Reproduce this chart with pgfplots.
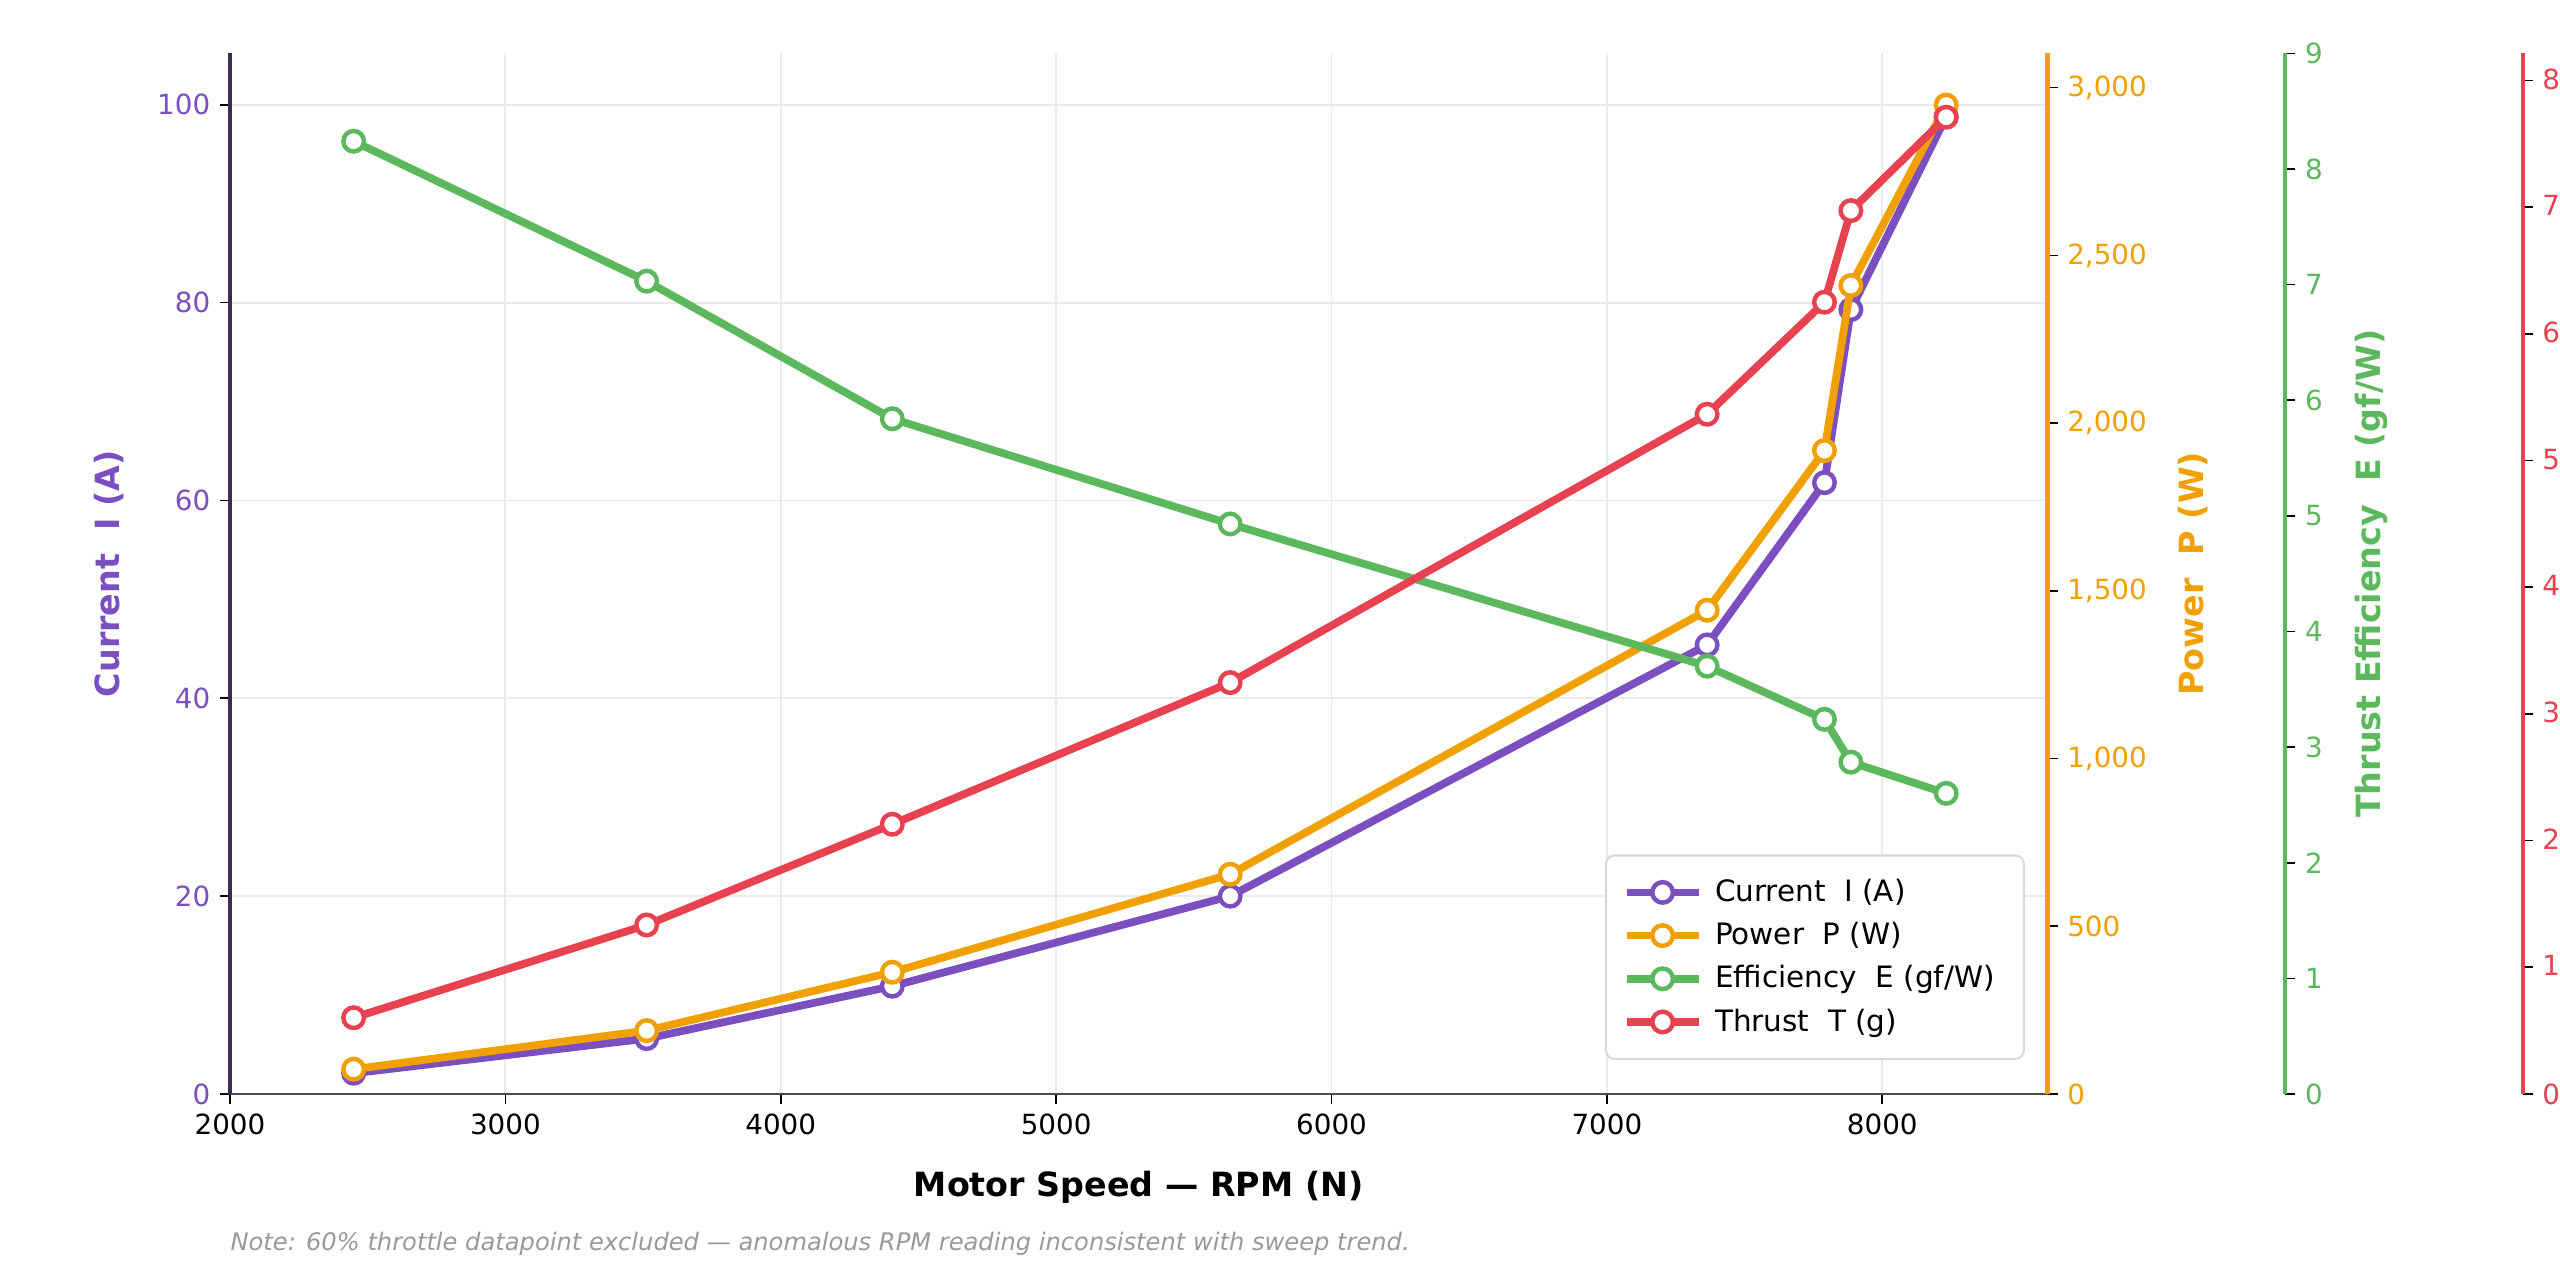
\documentclass[border=0pt]{standalone}
\usepackage{fontspec}
\setmainfont{DejaVu Sans}
\usepackage{pgfplots}
\pgfplotsset{compat=1.18}
\definecolor{cI}{HTML}{7B4FBF}
\definecolor{cP}{HTML}{F0A000}
\definecolor{cE}{HTML}{5CB85C}
\definecolor{cT}{HTML}{E8414F}
\definecolor{gridc}{HTML}{EBEBEB}
\definecolor{spineL}{HTML}{3B2F4F}
\definecolor{notec}{HTML}{999999}
\pgfplotsset{
  base/.style={
    at={(82.8pt,67.32pt)}, anchor=south west, scale only axis,
    width=654.3pt, height=374.62pt,
    xmin=2000, xmax=8600,
    /pgf/number format/assume math mode=true,
    tick label style={font=\fontsize{10}{12}\selectfont},
    tick align=outside, major tick length=3.6pt,
    tick style={black, line width=0.6pt},
  },
  spinebox/.style={
    anchor=south east, scale only axis,
    width=10pt, height=374.62pt, xmin=0, xmax=1,
    /pgf/number format/assume math mode=true,
    tick label style={font=\fontsize{10}{12}\selectfont},
    tick align=outside, major tick length=3.6pt,
    tick style={black, line width=0.6pt},
    axis y line*=right, hide x axis,
  },
  ser/.style={color=#1, line width=2.8pt, mark=*, mark size=3.7pt,
    mark options={solid, fill=white, draw=#1, line width=1.6pt}},
}
\begin{document}
\begin{tikzpicture}
\useasboundingbox (0,0) rectangle (921.6pt,461.16pt);
% ---- Current (main axis) ----
\begin{axis}[base,
  ymin=0, ymax=105.2,
  axis y line*=left, axis x line*=bottom,
  xtick={2000,3000,...,8000}, ytick={0,20,...,100},
  /pgf/number format/1000 sep={},
  grid=major, grid style={gridc, line width=0.7pt},
  x axis line style={-, draw=black!70, line width=1pt},
  y axis line style={-, draw=spineL, line width=1.4pt},
  yticklabel style={text=cI},
  xlabel={\fontsize{12}{14}\selectfont\bfseries Motor Speed — RPM (N)},
  ylabel={\fontsize{12}{14}\selectfont\bfseries Current\ \ I (A)},
  every axis x label/.style={at={(axis description cs:0.5,-0.0894)}, anchor=center},
  every axis y label/.style={at={(axis description cs:-0.0666,0.5)}, rotate=90, anchor=center, text=cI},
]
\addplot[ser=cI] coordinates {(2449,2.1) (3513,5.6) (4405,10.9) (5632,20.0) (7364,45.4) (7790,61.8) (7886,79.3) (8232,98.8)};
\end{axis}
% ---- Power ----
\begin{axis}[base,
  ymin=0, ymax=3102,
  axis y line*=right, hide x axis,
  ytick={0,500,...,3000},
  /pgf/number format/1000 sep={,},
  y axis line style={-, draw=cP, line width=1.5pt},
  yticklabel style={text=cP},
  ylabel={\fontsize{12}{14}\selectfont\bfseries Power\ \ P (W)},
  every axis y label/.style={at={(axis description cs:1.080,0.5)}, rotate=90, anchor=center, text=cP},
]
\addplot[ser=cP] coordinates {(2449,74) (3513,189) (4405,363) (5632,655) (7364,1442) (7790,1918) (7886,2410) (8232,2948)};
\end{axis}
% ---- Efficiency ----
\begin{axis}[base, ymin=0, ymax=9, hide axis]
\addplot[ser=cE] coordinates {(2449,8.24) (3513,7.03) (4405,5.84) (5632,4.93) (7364,3.70) (7790,3.24) (7886,2.87) (8232,2.60)};
\end{axis}
% ---- Thrust ----
\begin{axis}[base, ymin=0, ymax=8213, hide axis,
  legend style={at={(0.9876,0.0327)}, anchor=south east,
    draw=black!15, line width=0.8pt, rounded corners=3pt, fill=white,
    font=\fontsize{10.6}{12.6}\selectfont, inner xsep=6pt, inner ysep=6.5pt,
    row sep=2.0pt, cells={anchor=west},
    nodes={inner xsep=4.5pt}},
  legend image code/.code={\draw[mark repeat=2, mark phase=2, #1] plot coordinates {(0pt,0pt) (13pt,0pt) (26pt,0pt)};},
]
\addlegendimage{ser=cI}\addlegendentry{Current\ \ I (A)}
\addlegendimage{ser=cP}\addlegendentry{Power\ \ P (W)}
\addlegendimage{ser=cE}\addlegendentry{Efficiency\ \ E (gf/W)}
\addplot[ser=cT] coordinates {(2449,602) (3513,1334) (4405,2129) (5632,3247) (7364,5365) (7790,6249) (7886,6972) (8232,7709)};
\addlegendentry{Thrust\ \ T (g)}
\end{axis}
% ---- Efficiency spine ----
\begin{axis}[spinebox, at={(822.74pt,67.32pt)},
  ymin=0, ymax=9, ytick={0,1,...,9},
  y axis line style={-, draw=cE, line width=1.5pt},
  yticklabel style={text=cE},
  ylabel={\fontsize{12}{14}\selectfont\bfseries Thrust Efficiency\ \ E (gf/W)},
  every axis y label/.style={at={(rel axis cs:1,0.5)}, xshift=30.8pt, rotate=90, anchor=center, text=cE},
]
\end{axis}
% ---- Thrust spine ----
\begin{axis}[spinebox, at={(908.14pt,67.32pt)},
  ymin=0, ymax=8213, ytick={0,1000,...,8000},
  /pgf/number format/1000 sep={,},
  y axis line style={-, draw=cT, line width=1.5pt},
  yticklabel style={text=cT},
  ylabel={\fontsize{12}{14}\selectfont\bfseries Thrust\ \ T (g)},
  every axis y label/.style={at={(rel axis cs:1,0.5)}, xshift=48pt, rotate=90, anchor=center, text=cT},
]
\end{axis}
% ---- Note ----
\node[anchor=west, text=notec, font=\fontsize{8.7}{10}\selectfont\itshape, inner sep=0pt] at (82.8pt,13.3pt) {Note: 60\% throttle datapoint excluded — anomalous RPM reading inconsistent with sweep trend.};
\end{tikzpicture}
\end{document}
